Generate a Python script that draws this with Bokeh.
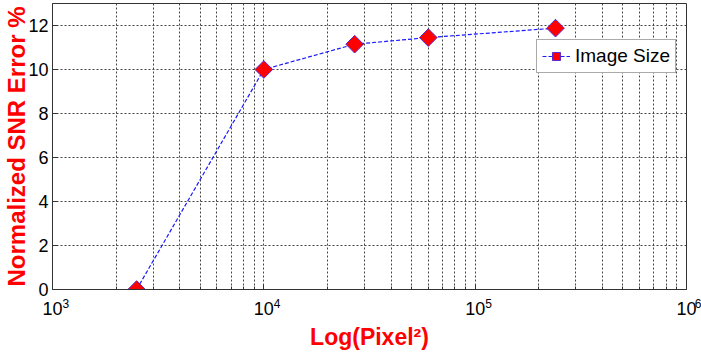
import math
from bokeh.plotting import figure
from bokeh.models import Range1d, FixedTicker, Legend, LegendItem, LogAxis
from bokeh.embed import file_html
from bokeh.resources import INLINE

# ---- data ----
pixels = [2500, 10000, 26900, 60000, 240000]
snr_error = [0.0, 10.0, 11.15, 11.45, 11.88]
series_label = "Image Size"
y_ticks = [0, 2, 4, 6, 8, 10, 12]
x_decades = [3, 4, 5, 6]
x_tick_base = "10"
x_label = "Log(Pixel²)"
y_label = "Normalized SNR Error %"

FONT = "Liberation Sans"
RED = "#ff0000"
NBSP = "\u00a0"

x_major = [10 ** d for d in x_decades]
x_minor = [m * 10 ** d for d in x_decades[:-1] for m in range(2, 10)]

p = figure(width=701, height=354, x_axis_type="log",
           x_range=Range1d(1e3, 1e6), y_range=Range1d(0, 13),
           output_backend="svg", toolbar_location=None,
           min_border_left=52, min_border_right=15,
           min_border_top=3, min_border_bottom=65)
p.outline_line_color = "#333333"
p.outline_line_width = 1
p.background_fill_color = "white"
p.border_fill_color = "white"

xt = FixedTicker(ticks=x_major, minor_ticks=x_minor)
yt = FixedTicker(ticks=y_ticks)

xa = p.xaxis[0]
xa.ticker = xt
xa.major_label_overrides = {v: x_tick_base for v in x_major}
ya = p.yaxis[0]
ya.ticker = yt

for ax in (xa, ya):
    ax.axis_line_color = "#333333"
    ax.major_tick_in = 5
    ax.major_tick_out = 0
    ax.minor_tick_in = 3
    ax.minor_tick_out = 0
    ax.major_tick_line_color = "#333333"
    ax.minor_tick_line_color = "#333333"
    ax.major_label_text_font = FONT
    ax.major_label_text_font_size = "18px"
    ax.major_label_text_color = "black"
    ax.axis_label_text_font = FONT
    ax.axis_label_text_font_size = "24px"
    ax.axis_label_text_font_style = "bold"
    ax.axis_label_text_color = RED
ya.minor_tick_line_color = None
ya.axis_label = y_label
xa.major_label_standoff = 12
ya.major_label_standoff = 4
ya.axis_label_standoff = -5

# second (label-only) axis carrying the exponents of the log tick labels and the axis title
ea = LogAxis(ticker=FixedTicker(ticks=x_major, minor_ticks=[]))
ea.major_label_overrides = {v: NBSP * 8 + str(d) for d, v in zip(x_decades, x_major)}
ea.major_label_text_font = FONT
ea.major_label_text_font_size = "12px"
ea.major_label_text_color = "black"
ea.major_label_standoff = -27
ea.axis_line_color = None
ea.major_tick_line_color = None
ea.minor_tick_line_color = None
ea.axis_label = x_label
ea.axis_label_text_font = FONT
ea.axis_label_text_font_size = "23px"
ea.axis_label_text_font_style = "bold"
ea.axis_label_text_color = RED
ea.axis_label_standoff = 10
p.add_layout(ea, "below")

# grid
for g in (p.xgrid[0], p.ygrid[0]):
    g.grid_line_color = "#444444"
    g.grid_line_dash = "2 2"
    g.grid_line_width = 1
p.xgrid[0].ticker = xt
p.ygrid[0].ticker = yt
p.xgrid[0].minor_grid_line_color = "#444444"
p.xgrid[0].minor_grid_line_dash = "2 2"

# series
ln = p.line(pixels, snr_error, line_color="#1a1aff", line_dash="4 2", line_width=1.2)
sc = p.scatter(pixels, snr_error, marker="square", angle=math.pi / 4, size=12.5,
               fill_color=RED, line_color="#5a2ad0", line_width=1)

legend = Legend(items=[LegendItem(label=series_label, renderers=[ln, sc])],
                location=(484, 216), orientation="vertical")
legend.label_text_font = FONT
legend.label_text_font_size = "19px"
legend.label_text_color = "black"
legend.border_line_color = "#555555"
legend.border_line_width = 1
legend.background_fill_alpha = 1
legend.glyph_width = 28
legend.glyph_height = 20
legend.label_height = 20
legend.padding = 5
legend.margin = 0
legend.spacing = 0
legend.label_standoff = 5
p.add_layout(legend, "center")

open("out.html", "w").write(file_html(p, INLINE))
